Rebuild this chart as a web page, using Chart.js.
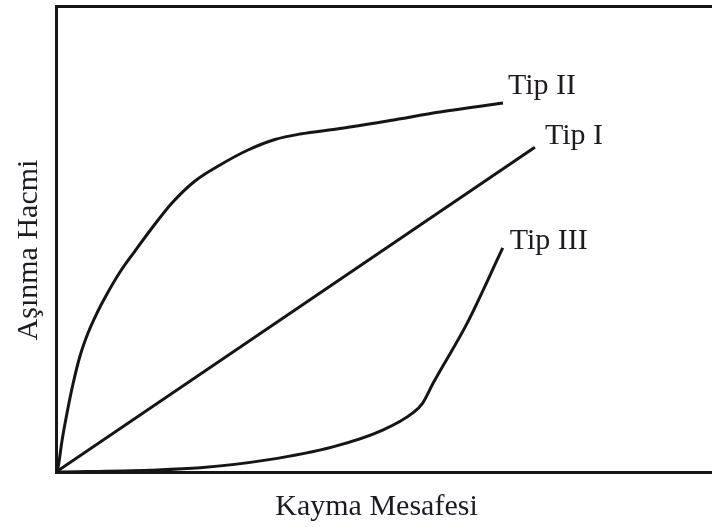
<!DOCTYPE html>
<html>
<head>
<meta charset="utf-8">
<title>Aşınma Hacmi – Kayma Mesafesi</title>
<script src="https://cdn.jsdelivr.net/npm/chart.js@4/dist/chart.umd.min.js"></script>
<style>
  html, body { margin: 0; padding: 0; background: #ffffff; }
  #wrap { width: 712px; height: 527px; }
</style>
</head>
<body>
<div id="wrap"><canvas id="chart" width="712" height="527"></canvas></div>
<script>
// Wear volume versus sliding distance, three typical behaviours (arbitrary units 0–100)
const seriesNames = ['Tip I', 'Tip II', 'Tip III'];

// Tip I: linear wear
const tip1X = [0, 73.0];
const tip1Y = [0, 69.7];

// Tip II: fast running-in, then slow steady wear
const tip2X = [0, 0.30, 0.91, 1.68, 2.59, 3.66, 4.88, 6.25, 7.77, 9.76, 12.04, 14.63, 17.68, 21.19, 25.0, 29.27, 33.38, 37.2, 43.29, 50.91, 58.54, 68.14];
const tip2Y = [0, 0.86, 6.65, 12.66, 18.88, 24.89, 29.83, 34.12, 38.20, 42.92, 47.42, 52.36, 57.73, 62.45, 65.88, 69.10, 71.35, 72.53, 73.71, 75.43, 77.25, 79.18];

// Tip III: slow wear, then sharp increase
const tip3X = [0, 14.3, 22.0, 32.2, 42.2, 49.8, 54.4, 55.9, 57.5, 62.7, 68.1];
const tip3Y = [0, 0.4, 0.9, 2.6, 5.4, 9.0, 12.7, 14.8, 19.1, 32.0, 48.1];

const xTitle = 'Kayma Mesafesi';
const yTitle = 'Aşınma Hacmi';

const toPoints = (xs, ys) => xs.map((x, i) => ({ x: x, y: ys[i] }));

const INK = '#151515';
const TEXT = '#1e1a22';
const FONT = '30px "Liberation Serif", "Times New Roman", serif';

// where each series name sits relative to the end of its curve (px)
const labelOffsets = {
  'Tip I':   { dx: 10, dy: -3 },
  'Tip II':  { dx: 5,  dy: -9 },
  'Tip III': { dx: 7,  dy: 1 }
};

const endLabels = {
  id: 'endLabels',
  afterDatasetsDraw(chart) {
    const ctx = chart.ctx;
    ctx.save();
    ctx.font = FONT;
    ctx.fillStyle = TEXT;
    ctx.textAlign = 'left';
    ctx.textBaseline = 'alphabetic';
    chart.data.datasets.forEach((ds, i) => {
      const meta = chart.getDatasetMeta(i);
      const last = meta.data[meta.data.length - 1];
      const off = labelOffsets[ds.label];
      ctx.fillText(ds.label, last.x + off.dx, last.y + off.dy);
    });
    ctx.restore();
  }
};

const axisTitles = {
  id: 'axisTitles',
  afterDraw(chart) {
    const ctx = chart.ctx;
    ctx.save();
    ctx.font = FONT;
    ctx.fillStyle = TEXT;
    ctx.textAlign = 'center';
    ctx.textBaseline = 'alphabetic';
    // horizontal title under the plot
    ctx.fillText(xTitle, 376.5, 515);
    // vertical title left of the plot, reading bottom to top
    ctx.translate(37, 250);
    ctx.rotate(-Math.PI / 2);
    ctx.fillText(yTitle, 0, 0);
    ctx.restore();
  }
};

const lineStyle = {
  borderColor: INK,
  borderWidth: 3,
  pointRadius: 0,
  fill: false,
  cubicInterpolationMode: 'monotone'
};

const hiddenAxis = (extra) => Object.assign({
  type: 'linear',
  ticks: { display: false },
  grid: { display: false, drawTicks: false },
  border: { display: true, color: INK, width: 3 }
}, extra);

new Chart(document.getElementById('chart'), {
  type: 'line',
  data: {
    datasets: [
      Object.assign({ label: seriesNames[0], data: toPoints(tip1X, tip1Y) }, lineStyle),
      Object.assign({ label: seriesNames[1], data: toPoints(tip2X, tip2Y) }, lineStyle),
      Object.assign({ label: seriesNames[2], data: toPoints(tip3X, tip3Y) }, lineStyle)
    ]
  },
  options: {
    responsive: false,
    animation: false,
    devicePixelRatio: 1,
    layout: { padding: { left: 56, top: 6, right: 0, bottom: 55 } },
    plugins: {
      legend: { display: false },
      tooltip: { enabled: false },
      title: { display: false }
    },
    scales: {
      x: hiddenAxis({ position: 'bottom', min: 0, max: 100 }),
      y: hiddenAxis({ position: 'left', min: 0, max: 100 }),
      xTop: hiddenAxis({ position: 'top', min: 0, max: 100 })
    }
  },
  plugins: [endLabels, axisTitles]
});
</script>
</body>
</html>
